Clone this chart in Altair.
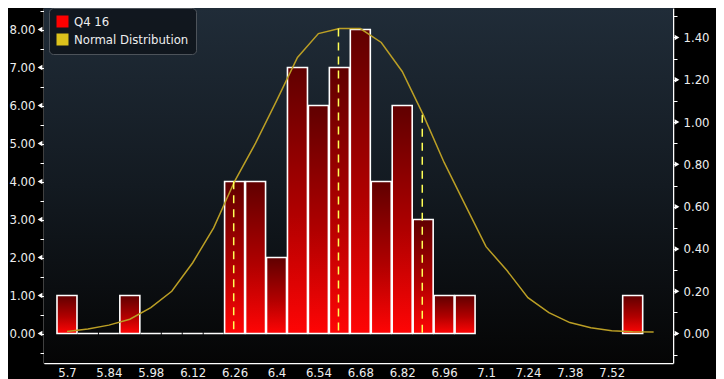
import altair as alt
import pandas as pd

# ---- data ----
bin_centers = [5.70, 5.77, 5.84, 5.91, 5.98, 6.05, 6.12, 6.19, 6.26, 6.33, 6.40,
               6.47, 6.54, 6.61, 6.68, 6.75, 6.82, 6.89, 6.96, 7.03, 7.59]
counts = [1, 0, 0, 1, 0, 0, 0, 0, 4, 4, 2, 7, 6, 7, 8, 4, 6, 3, 1, 1, 1]

curve_x = [5.70, 5.77, 5.84, 5.91, 5.98, 6.05, 6.12, 6.19, 6.26, 6.33, 6.40, 6.47,
           6.54, 6.61, 6.68, 6.75, 6.82, 6.89, 6.96, 7.03, 7.10, 7.17, 7.24, 7.31,
           7.38, 7.45, 7.52, 7.59, 7.66]
curve_y = [0.010, 0.022, 0.040, 0.068, 0.123, 0.200, 0.335, 0.500, 0.720, 0.900,
           1.100, 1.305, 1.418, 1.442, 1.442, 1.376, 1.239, 1.035, 0.809, 0.610,
           0.411, 0.298, 0.170, 0.099, 0.052, 0.028, 0.014, 0.009, 0.007]

marker_x = [6.257, 6.607, 6.887]
marker_top = [0.720, 1.442, 1.035]

x_labels = [5.7, 5.84, 5.98, 6.12, 6.26, 6.4, 6.54, 6.68, 6.82, 6.96, 7.1, 7.24, 7.38, 7.52]
left_ticks = [-0.5, 0, 0.5, 1, 1.5, 2, 2.5, 3, 3.5, 4, 4.5, 5, 5.5, 6, 6.5, 7, 7.5, 8, 8.5]
left_major = [0, 1, 2, 3, 4, 5, 6, 7, 8]
right_ticks = [-0.1, 0.0, 0.1, 0.2, 0.3, 0.4, 0.5, 0.6, 0.7, 0.8, 0.9, 1.0, 1.1, 1.2, 1.3, 1.4, 1.5]
right_major = [0.0, 0.2, 0.4, 0.6, 0.8, 1.0, 1.2, 1.4]

series_names = ["Q4 16", "Normal Distribution"]
series_colors = ["#ff0000", "#dcc21c"]

X_DOMAIN = [5.6232, 7.7247]
YL_DOMAIN = [-0.776, 8.566]
YR_DOMAIN = [-0.139, 1.539]

W, H = 629, 355
FONT = "DejaVu Sans Condensed, Liberation Sans, sans-serif"
TXT = "#eeeeee"
GRID = "#8f969d"

bars_df = pd.DataFrame({"x": bin_centers, "count": counts})
curve_df = pd.DataFrame({"x": curve_x, "density": curve_y})
marker_df = pd.DataFrame({"x": marker_x, "density": marker_top})
ltri_df = pd.DataFrame({"count": left_major})
rtri_df = pd.DataFrame({"density": right_major})
legend_df = pd.DataFrame({"series": series_names})
bg_df = pd.DataFrame({"bg": [0]})

x_enc = alt.X("x:Q", title=None,
              scale=alt.Scale(domain=X_DOMAIN, nice=False, zero=False, padding=0),
              axis=alt.Axis(values=x_labels, format=".2~f", grid=True, gridDash=[3, 3],
                            gridColor=GRID, gridOpacity=0.75, gridWidth=1, ticks=False,
                            labelPadding=3, domainColor="#ffffff", domainWidth=1.5,
                            labelFontSize=13, labelColor=TXT, labelFont=FONT,
                            labelFlush=False))

yl_enc = alt.Y("count:Q", title=None,
               scale=alt.Scale(domain=YL_DOMAIN, nice=False, zero=False, padding=0),
               axis=alt.Axis(orient="left", values=left_ticks,
                             labelExpr="datum.value % 1 === 0 ? format(datum.value, '.2f') : ''",
                             grid=True, gridDash=[3, 3], gridColor=GRID, gridWidth=1,
                             gridOpacity={"condition": {"test": "datum.value % 1 !== 0", "value": 0},
                                          "value": 0.75},
                             tickSize=4, tickColor="#ffffff", tickWidth=1,
                             labelPadding=5, domainColor="#ffffff", domainWidth=1.5,
                             labelFontSize=13, labelColor=TXT, labelFont=FONT))

yr_enc = alt.Y("density:Q", title=None,
               scale=alt.Scale(domain=YR_DOMAIN, nice=False, zero=False, padding=0),
               axis=alt.Axis(orient="right", values=right_ticks,
                             labelExpr="abs((datum.value * 10) % 2) < 0.01 ? format(datum.value, '.2f') : ''",
                             grid=False, tickSize=4, tickColor="#ffffff", tickWidth=1,
                             labelPadding=6, domainColor="#ffffff", domainWidth=1.5,
                             labelFontSize=13, labelColor=TXT, labelFont=FONT))

bar_grad = {"gradient": "linear", "x1": 0, "y1": 0, "x2": 0, "y2": 1,
            "stops": [{"offset": 0, "color": "#600000"},
                      {"offset": 0.55, "color": "#b00000"},
                      {"offset": 1, "color": "#ff0505"}]}

bg_grad = {"gradient": "linear", "x1": 0, "y1": 0, "x2": 0, "y2": 1,
           "stops": [{"offset": 0, "color": "#202c38"},
                     {"offset": 0.5, "color": "#131a21"},
                     {"offset": 1, "color": "#050505"}]}

background = alt.Chart(bg_df).mark_rect(fill=bg_grad, strokeWidth=0).encode(
    x=alt.value(0), x2=alt.value(W), y=alt.value(0), y2=alt.value(H))

bars = alt.Chart(bars_df).mark_bar(size=20, fill=bar_grad, stroke="#ffffff",
                                   strokeWidth=1.6).encode(
    x=x_enc, y=yl_enc, y2=alt.datum(0))

ltri = alt.Chart(ltri_df).mark_point(shape="triangle-left", filled=True, size=30,
                                     color="#ffffff", opacity=1).encode(
    x=alt.value(-4), y=yl_enc)

legend_pts = alt.Chart(legend_df).mark_square(opacity=0, size=10).encode(
    x=alt.value(-50), y=alt.value(-50),
    color=alt.Color("series:N", scale=alt.Scale(domain=series_names, range=series_colors),
                    legend=alt.Legend(title=None, orient="none", legendX=5, legendY=0,
                                      direction="vertical", symbolType="square",
                                      symbolSize=144, symbolOpacity=1, symbolStrokeWidth=0,
                                      fillColor="rgba(14,19,25,0.8)", strokeColor="#4d535a",
                                      cornerRadius=4, padding=7, rowPadding=4,
                                      labelOffset=5, labelFontSize=13, labelColor=TXT,
                                      labelFont=FONT)))

left = alt.layer(background, bars, ltri, legend_pts)

curve = alt.Chart(curve_df).mark_line(color="#bb9f25", strokeWidth=1.5).encode(
    x=x_enc, y=yr_enc)

markers = alt.Chart(marker_df).mark_rule(color="#ffff55", strokeWidth=1.5,
                                         strokeDash=[8, 6]).encode(
    x=x_enc, y=yr_enc, y2=alt.datum(0))

rtri = alt.Chart(rtri_df).mark_point(shape="triangle-right", filled=True, size=30,
                                     color="#ffffff", opacity=1).encode(
    x=alt.value(W + 4), y=yr_enc)

right = alt.layer(curve, markers, rtri)

chart = alt.layer(left, right).resolve_scale(y="independent").properties(
    width=W, height=H,
    autosize=alt.AutoSizeParams(type="none"),
    padding={"left": 36, "top": 0, "right": 43, "bottom": 16},
    background="#000000",
).configure_view(stroke=None)

chart.save("out.html", embed_options={"renderer": "svg", "actions": False})
